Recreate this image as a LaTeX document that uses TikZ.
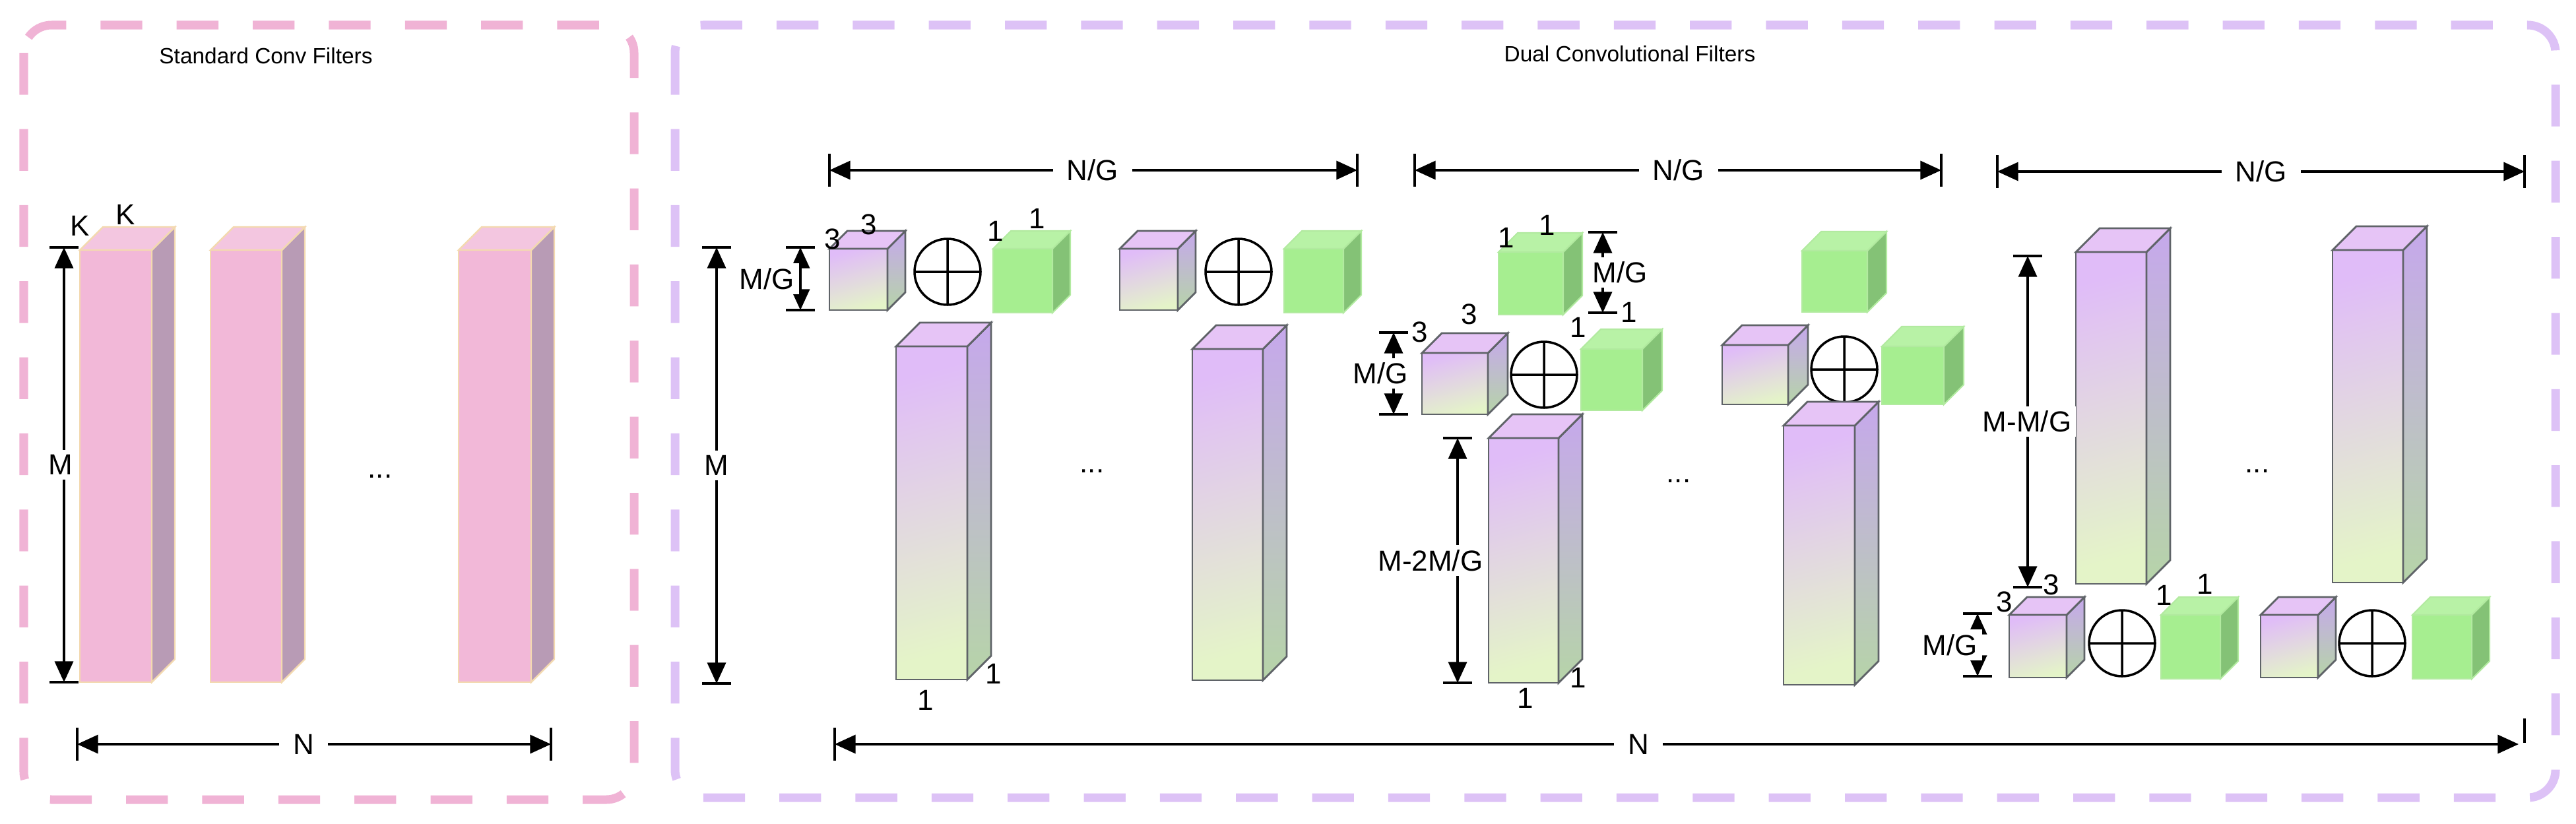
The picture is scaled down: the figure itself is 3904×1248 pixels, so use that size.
\documentclass[tikz,border=0pt]{standalone}
\usepackage{fontspec}
\setmainfont{Liberation Sans}
\usetikzlibrary{arrows.meta}
\definecolor{pinkF}{HTML}{F2B8D8}\definecolor{pinkS}{HTML}{B89BB5}\definecolor{pinkT}{HTML}{F3C6E0}\definecolor{pinkB}{HTML}{F3D9B0}
\definecolor{purT}{HTML}{E0BCF8}\definecolor{purB}{HTML}{E4F4C8}\definecolor{sideT}{HTML}{C6A8EC}\definecolor{sideB}{HTML}{B6D4A8}
\definecolor{topP}{HTML}{E6C4F6}\definecolor{edge}{HTML}{5F6368}
\definecolor{grF}{HTML}{A6EE90}\definecolor{grS}{HTML}{84C276}\definecolor{grT}{HTML}{B8F2A6}\definecolor{grB}{HTML}{B2EAA0}
\definecolor{frP}{HTML}{F0B3D5}\definecolor{frL}{HTML}{DDC2F6}
\tikzset{
 pink front/.style={fill=pinkF,draw=pinkB,line width=0.7pt},
 pink side/.style={fill=pinkS,draw=pinkB,line width=0.7pt},
 pink top/.style={fill=pinkT,draw=pinkB,line width=0.7pt},
 pur front/.style={draw=edge,line width=0.8pt,top color=purT,bottom color=purB,shading angle=15},
 pur side/.style={draw=edge,line width=0.8pt,top color=sideT,bottom color=sideB},
 pur top/.style={fill=topP,draw=edge,line width=0.8pt},
 gr front/.style={fill=grF,draw=grB,line width=0.6pt},
 gr side/.style={fill=grS,draw=grB,line width=0.6pt},
 gr top/.style={fill=grT,draw=grB,line width=0.6pt},
 lbl/.style={font=\fontsize{12.5}{14}\selectfont,inner sep=1pt},
 dlbl/.style={lbl,fill=white,inner sep=2pt},
 dim/.style={line width=0.9pt,{Triangle[length=9pt,width=8pt]}-{Triangle[length=9pt,width=8pt]}},
 tick/.style={line width=0.9pt},
 frame/.style={line width=3.7pt,dash pattern=on 18pt off 14.8pt,rounded corners=12pt},
 opl/.style={line width=1pt}
}
\newcommand\prism[6]{%
 \path[#6 front] (#1,#2) rectangle ++(#3,#4);
 \path[#6 side] (#1+#3,#2) -- ++(#5,-#5) -- ++(0,#4) -- ++(-#5,#5) -- cycle;
 \path[#6 top] (#1,#2) -- ++(#5,-#5) -- ++(#3,0) -- ++(-#5,#5) -- cycle;}
\newcommand\opl[2]{\draw[opl] (#1,#2) circle (50) (#1-50,#2) -- (#1+50,#2) (#1,#2-50) -- (#1,#2+50);}
\newcommand\vdim[5]{% x, y1, y2, label, label x
 \draw[tick] (#1-22,#2) -- (#1+22,#2) (#1-22,#3) -- (#1+22,#3);
 \draw[dim] (#1,#2) -- (#1,#3);
 \node[dlbl] at (#5,{(#2+#3)/2}) {#4};}
\newcommand\hdim[5]{% y, x1, x2, label, label x
 \draw[tick] (#2,#1-25) -- (#2,#1+25) (#3,#1-25) -- (#3,#1+25);
 \draw[dim] (#2,#1) -- (#3,#1);
 \node[dlbl,inner xsep=6pt] at (#5,#1) {#4};}
\begin{document}
\begin{tikzpicture}[x=0.01cm,y=-0.01cm]
\useasboundingbox (0,0) rectangle (3904,1248);
\draw[frame,draw=frP] (36,38) rectangle (961,1212);
\draw[frame,draw=frL] (1023,38) rectangle (3873,1209);
\node[font=\fontsize{9.5}{11}\selectfont] (t1) at (403,85) {Standard Conv Filters};
\node[font=\fontsize{9.5}{11}\selectfont] (t2) at (2470,82) {Dual Convolutional Filters};
% standard
\prism{121}{379}{109}{655}{35}{pink}
\prism{319}{379}{108}{655}{35}{pink}
\prism{695}{379}{110}{655}{35}{pink}
\node[lbl] at (121,342) {K}; \node[lbl] at (190,325) {K};
\vdim{97}{375}{1034}{M}{92}
\node[lbl] at (576,722) {...};
\hdim{1128}{117}{835}{N}{460}
% dual panel 1
\hdim{258}{1257}{2057}{N/G}{1656}
\prism{1257}{377}{88}{93}{27}{pur} \opl{1436}{412} \prism{1505}{377}{90}{97}{27}{gr}
\prism{1358}{525}{108}{505}{36}{pur}
\prism{1697}{377}{88}{93}{27}{pur} \opl{1877}{412} \prism{1946}{377}{90}{97}{27}{gr}
\prism{1807}{529}{107}{502}{36}{pur}
\node[lbl] at (1262,362) {3}; \node[lbl] at (1317,340) {3};
\node[lbl] at (1509,350) {1}; \node[lbl] at (1572,331) {1};
\node[lbl] at (1506,1021) {1}; \node[lbl] at (1403,1061) {1};
\vdim{1213}{375}{470}{M/G}{1162}
\vdim{1086}{375}{1036}{M}{1086}
\node[lbl] at (1655,714) {...};
% dual panel 2
\hdim{258}{2144}{2942}{N/G}{2544}
\prism{2271}{382}{98}{95}{29}{gr}
\prism{2155}{535}{100}{93}{30}{pur} \opl{2340}{568} \prism{2396}{529}{93}{93}{30}{gr}
\prism{2256}{664}{106}{371}{36}{pur}
\prism{2731}{380}{99}{93}{29}{gr}
\prism{2610}{523}{100}{90}{30}{pur} \opl{2795}{560} \prism{2852}{525}{94}{88}{30}{gr}
\prism{2703}{645}{108}{393}{36}{pur}
\node[lbl] at (2283,360) {1}; \node[lbl] at (2345,341) {1};
\node[lbl] at (2152,503) {3}; \node[lbl] at (2227,476) {3};
\node[lbl] at (2392,496) {1}; \node[lbl] at (2469,473) {1};
\node[lbl] at (2392,1027) {1}; \node[lbl] at (2312,1058) {1};
\vdim{2429}{352}{474}{M/G}{2455}
\vdim{2112}{504}{628}{M/G}{2092}
\vdim{2209}{664}{1035}{M-2M/G}{2168}
\node[lbl] at (2544,729) {...};
% dual panel 3
\hdim{260}{3027}{3826}{N/G}{3427}
\prism{3146}{382}{107}{503}{36}{pur}
\prism{3535}{379}{107}{504}{36}{pur}
\prism{3045}{932}{87}{95}{27}{pur} \opl{3216}{975} \prism{3275}{932}{90}{97}{27}{gr}
\prism{3426}{932}{87}{95}{27}{pur} \opl{3595}{975} \prism{3656}{932}{90}{97}{27}{gr}
\node[lbl] at (3109,886) {3}; \node[lbl] at (3038,912) {3};
\node[lbl] at (3280,902) {1}; \node[lbl] at (3342,885) {1};
\vdim{3073}{388}{890}{M-M/G}{3072}
\vdim{2997}{930}{1025}{M/G}{2955}
\node[lbl] at (3421,714) {...};
% big N
\coordinate (nl) at (1265,1128); \coordinate (nr) at (3817,1128);
\draw[tick] (1265,1103) -- (1265,1153) (3826,1089) -- (3826,1126);
\draw[dim] (nl) -- (nr);
\node[dlbl,inner xsep=6pt] at (2483,1128) {N};
\end{tikzpicture}
\end{document}
